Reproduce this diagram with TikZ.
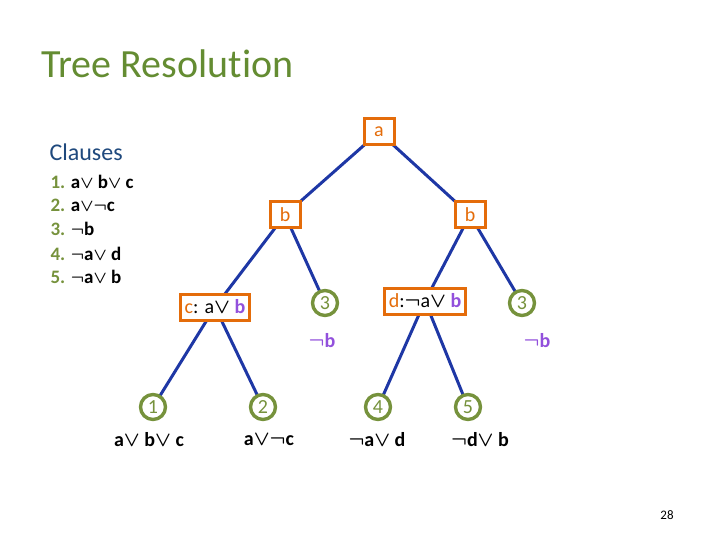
\documentclass[tikz,border=0pt]{standalone}
\usepackage{fontspec}
\setmainfont[Ligatures=NoCommon]{Carlito}
\definecolor{orng}{RGB}{228,108,10}
\definecolor{grn}{RGB}{118,146,60}
\definecolor{ttl}{RGB}{100,140,50}
\definecolor{blu}{RGB}{31,73,125}
\definecolor{ln}{RGB}{30,55,165}
\definecolor{prp}{RGB}{146,80,220}
\newcommand{\OR}{\ensuremath{\boldsymbol{\vee}}}
\newcommand{\NOT}{\ensuremath{\boldsymbol{\neg}}}
\usepackage{amsmath}
\begin{document}
\begin{tikzpicture}[x=1pt,y=-1pt,
 bx/.style={draw=orng,line width=3pt,fill=white,inner sep=4pt,minimum height=26pt,minimum width=30pt,font=\fontsize{20}{24}\selectfont},
 cr/.style={circle,draw=grn,line width=3.4pt,fill=white,inner sep=0pt,minimum size=25pt,text=grn,font=\fontsize{20}{24}\selectfont},
 lab/.style={font=\fontsize{20}{24}\selectfont\bfseries},
 edge/.style={draw=ln,line width=3pt}]
\useasboundingbox (0,0) rectangle (720,540);
\node[anchor=west,text=ttl,font=\fontsize{40}{46}\selectfont] (title) at (38,64) {Tree Resolution};
\node[anchor=west,text=blu,font=\fontsize{24}{28}\selectfont] (cl) at (46,152) {Clauses};
\begin{scope}[every node/.style={anchor=west,font=\fontsize{19}{22}\selectfont\bfseries}]
\node (i1) at (47,182) {\textcolor{grn}{1.} a\OR\ b\OR\ c};
\node (i2) at (47,205) {\textcolor{grn}{2.} a\OR\NOT c};
\node (i3) at (47,229) {\textcolor{grn}{3.} \NOT b};
\node (i4) at (47,254) {\textcolor{grn}{4.} \NOT a\OR\ d};
\node (i5) at (47,277) {\textcolor{grn}{5.} \NOT a\OR\ b};
\end{scope}
\coordinate (pa) at (379,132);
\coordinate (pbl) at (285,215);
\coordinate (pbr) at (470,215);
\coordinate (pc) at (215,307);
\coordinate (p3l) at (325,303);
\coordinate (pd) at (425,301);
\coordinate (p3r) at (522,303);
\coordinate (p1) at (153,407);
\coordinate (p2) at (263,407);
\coordinate (p4) at (378,407);
\coordinate (p5) at (468,407);
\draw[edge] (pa)--(pbl) (pa)--(pbr) (pbl)--(pc) (pbl)--(p3l) (pbr)--(pd) (pbr)--(p3r)
 (pc)--(p1) (pc)--(p2) (pd)--(p4) (pd)--(p5);
\node[bx,text=orng] (a) at (pa) {a};
\node[bx,text=orng] (bl) at (pbl) {b};
\node[bx,text=orng] (br) at (pbr) {b};
\node[bx] (c) at (pc) {\textcolor{orng}{c}: a\OR\ \textcolor{prp}{\bfseries b}};
\node[bx] (d) at (pd) {\textcolor{orng}{d}:\NOT a\OR\ \textcolor{prp}{\bfseries b}};
\node[cr] (t3l) at (p3l) {3};
\node[cr] (t3r) at (p3r) {3};
\node[cr] (n1) at (p1) {1};
\node[cr] (n2) at (p2) {2};
\node[cr] (n4) at (p4) {4};
\node[cr] (n5) at (p5) {5};
\node[lab,text=prp] (nb1) at (322,341) {\NOT b};
\node[lab,text=prp] (nb2) at (537,341) {\NOT b};
\node[lab] (l1) at (149,440) {a\OR\ b\OR\ c};
\node[lab] (l2) at (269,440) {a\OR\NOT c};
\node[lab] (l4) at (377,440) {\NOT a\OR\ d};
\node[lab] (l5) at (480,440) {\NOT d\OR\ b};
\node[font=\fontsize{13}{15}\selectfont] (pg) at (667,515) {28};
\end{tikzpicture}
\end{document}
